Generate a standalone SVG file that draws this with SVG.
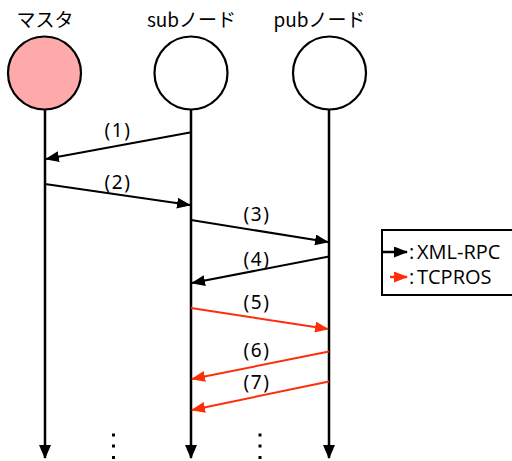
<svg xmlns="http://www.w3.org/2000/svg" width="512" height="461" viewBox="0 0 512 461">
  <style>
    .title { font-family: "Noto Sans CJK JP", "Noto Sans", sans-serif; font-size: 19px; fill: #000; text-anchor: middle; }
    .lbl { font-family: "Noto Sans", "Noto Sans CJK JP", sans-serif; font-size: 19px; fill: #000; text-anchor: middle; letter-spacing: 1.5px; }
    .leg { font-family: "Open Sans", "Liberation Sans", sans-serif; font-size: 20px; fill: #000; }
    .node { stroke: #000; stroke-width: 2.2; }
    .life { stroke: #000; stroke-width: 2.5; fill: none; marker-end: url(#ahDown); }
    .rpc { stroke: #000; stroke-width: 2; fill: none; marker-end: url(#ahBlack); }
    .tcp { stroke: #ff2d0a; stroke-width: 2; fill: none; marker-end: url(#ahRed); }
  </style>
  <defs>
    <marker id="ahBlack" viewBox="0 0 14 11" refX="13" refY="5.5" markerWidth="14" markerHeight="11" markerUnits="userSpaceOnUse" orient="auto">
      <path d="M0,0 L14,5.5 L0,11 Z" fill="#000"/>
    </marker>
    <marker id="ahRed" viewBox="0 0 14 11" refX="13" refY="5.5" markerWidth="14" markerHeight="11" markerUnits="userSpaceOnUse" orient="auto">
      <path d="M0,0 L14,5.5 L0,11 Z" fill="#ff2d0a"/>
    </marker>
    <marker id="ahDown" viewBox="0 0 14 12" refX="13" refY="6" markerWidth="14" markerHeight="12" markerUnits="userSpaceOnUse" orient="auto">
      <path d="M0,0 L14,6 L0,12 Z" fill="#000"/>
    </marker>
  </defs>

  <!-- nodes with lifelines -->
  <g id="master">
    <text class="title" x="45" y="27">マスタ</text>
    <line class="life" x1="45" y1="110" x2="45" y2="458"/>
    <circle class="node" cx="44.5" cy="73" r="36.5" fill="#ffaaaa"/>
  </g>
  <g id="sub-node">
    <text class="title" x="191.5" y="27">subノード</text>
    <line class="life" x1="191" y1="110" x2="191" y2="458"/>
    <circle class="node" cx="191" cy="73" r="36.5" fill="#fff"/>
  </g>
  <g id="pub-node">
    <text class="title" x="319.5" y="27">pubノード</text>
    <line class="life" x1="329" y1="110" x2="329" y2="458"/>
    <circle class="node" cx="329.5" cy="73" r="36.5" fill="#fff"/>
  </g>

  <!-- continuation dots -->
  <g id="dots" fill="#000">
    <rect x="112" y="433.5" width="3" height="3"/>
    <rect x="112" y="444.5" width="3" height="3"/>
    <rect x="112" y="456" width="3" height="3"/>
    <rect x="258.5" y="433.5" width="3" height="3"/>
    <rect x="258.5" y="444.5" width="3" height="3"/>
    <rect x="258.5" y="456" width="3" height="3"/>
  </g>

  <!-- messages -->
  <g id="connectors">
    <line class="rpc" x1="190" y1="132.5" x2="46" y2="159"/>
    <line class="rpc" x1="45" y1="184" x2="190" y2="205"/>
    <line class="rpc" x1="191" y1="220" x2="328" y2="242"/>
    <line class="rpc" x1="329" y1="256.5" x2="192" y2="283"/>
    <line class="tcp" x1="191" y1="308" x2="328" y2="329"/>
    <line class="tcp" x1="329" y1="351.5" x2="192" y2="379"/>
    <line class="tcp" x1="329" y1="381.5" x2="192" y2="410"/>
  </g>

  <g id="labels">
    <text class="lbl" x="118" y="137">(1)</text>
    <text class="lbl" x="118" y="189">(2)</text>
    <text class="lbl" x="257" y="221">(3)</text>
    <text class="lbl" x="257" y="266">(4)</text>
    <text class="lbl" x="257" y="309">(5)</text>
    <text class="lbl" x="257" y="357">(6)</text>
    <text class="lbl" x="257" y="389">(7)</text>
  </g>

  <!-- legend -->
  <g id="legend">
    <rect x="382" y="230" width="140" height="65" fill="#fff" stroke="#000" stroke-width="2"/>
    <line x1="383" y1="252" x2="407" y2="252" stroke="#000" stroke-width="2.5" marker-end="url(#ahBlack)"/>
    <line x1="390" y1="277" x2="407" y2="277" stroke="#ff2d0a" stroke-width="2.5" marker-end="url(#ahRed)"/>
    <text class="leg" x="409" y="259">:</text>
    <text class="leg" x="417" y="259">XML-RPC</text>
    <text class="leg" x="409" y="284">:</text>
    <text class="leg" x="417" y="284">TCPROS</text>
  </g>
</svg>
